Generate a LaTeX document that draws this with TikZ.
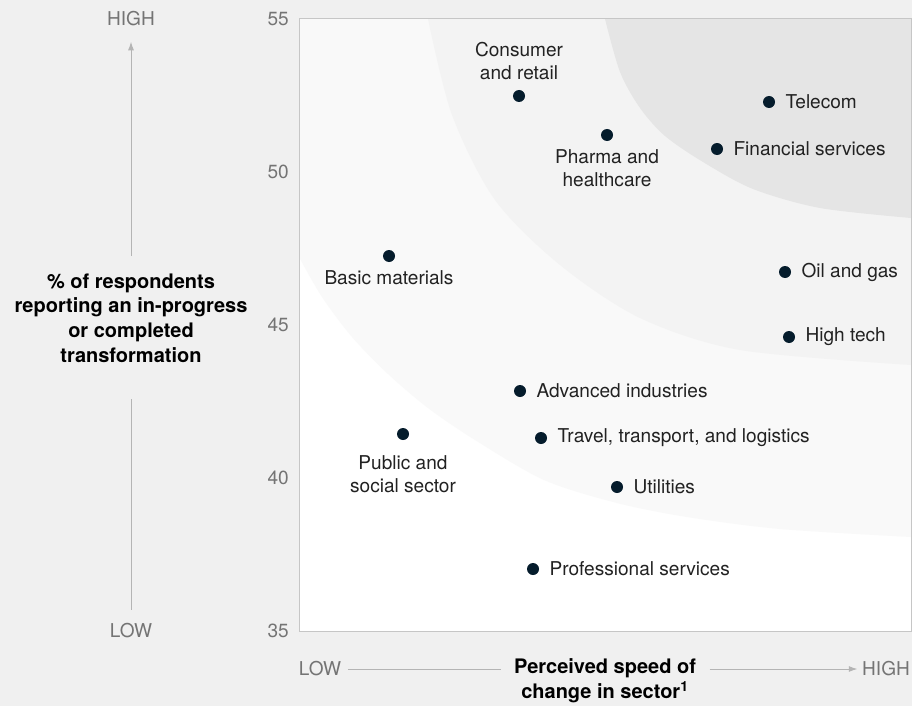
\documentclass[tikz,border=0pt]{standalone}
\usepackage{fontspec}
\setmainfont{TeX Gyre Heros}
\usepackage{tikz}
\usetikzlibrary{positioning, arrows.meta}

\definecolor{pagegray}{HTML}{F0F0F0}
\definecolor{zoneone}{HTML}{F9F9F9}
\definecolor{zonetwo}{HTML}{F3F3F3}
\definecolor{zonethree}{HTML}{E5E5E5}
\definecolor{framegray}{HTML}{C6C6C6}
\definecolor{guidegray}{HTML}{B4B4B4}
\definecolor{axisgray}{HTML}{747474}
\definecolor{inkblue}{HTML}{051C2C}
\definecolor{txtdark}{HTML}{222222}

\tikzset{
  dot/.style={circle, fill=inkblue, inner sep=0pt, minimum size=9pt},
  sector/.style={inner sep=0pt, text=txtdark, align=center,
    font=\fontsize{14.3}{17.3}\selectfont},
  axisword/.style={text=axisgray, font=\fontsize{14.3}{17.3}\selectfont},
  axistitle/.style={inner sep=0pt, align=center, text=black,
    font=\bfseries\fontsize{15}{18.5}\selectfont},
  guide/.style={draw=guidegray, line width=0.75pt},
  guidetip/.style={-{Latex[length=6.5pt, width=4.5pt]}},
}

\begin{document}
\begin{tikzpicture}[x=0.75pt, y=-0.75pt]
        \fill[pagegray] (0,0) rectangle (912,706);
        \useasboundingbox (0,0) rectangle (912,706);
        % zones of the plot
        \fill[white] (299,19) rectangle (911,631);
        \fill[zoneone] plot[smooth] coordinates {(299,257) (322,297) (352,337)
            (388,374) (428,408) (475,440) (544,480) (617,503) (687,517)
            (780,529) (911,537)} -- (911,19) -- (299,19) -- cycle;
        \fill[zonetwo] plot[smooth] coordinates {(428,19) (452,115) (495,200)
            (560,265) (640,318) (740,350) (911,365)} -- (911,19) -- cycle;
        \fill[zonethree] plot[smooth] coordinates {(605,19) (620,72) (640,108)
            (665,136) (703,162) (753,189) (820,208) (911,218)}
            -- (911,19) -- cycle;
        \draw[framegray, line width=0.75pt] (299,19) rectangle (911,631);
        % y axis
        \foreach \v in {35,40,45,50,55}
        \node[axisword, anchor=east, inner sep=0pt] (tick\v) at (289,{19+(55-\v)*30.6}) {\v};
        \node[axisword] (yhigh) at (131,19) {HIGH};
        \node[axisword] (ylow) at (131,631) {LOW};
        \node[axistitle] (ytitle) at (131,318) {\%~of respondents\\reporting an in-progress\\or completed\\transformation};
        \draw[guide, guidetip, shorten <=13pt, shorten >=8pt] (ytitle) -- (yhigh);
        \draw[guide, shorten <=27.5pt, shorten >=6.5pt] (ytitle) -- (ylow);
        % x axis
        \node[axisword] (xlow) at (320,669) {LOW};
        \node[axisword] (xhigh) at (886,669) {HIGH};
        \node[axistitle] (xtitle) at (605,681) {Perceived speed of\\change in sector\textsuperscript{1}};
        \draw[guide, shorten <=1.5pt, shorten >=10pt] (xlow) -- (xlow -| xtitle.west);
        \draw[guide, guidetip, shorten <=10pt] (xhigh -| xtitle.east) -- (xhigh);
        % sectors
        \foreach \nm/\px/\py/\txt in {tel/769/102/Telecom, fin/717/149/Financial services,
            oil/785/272/Oil and gas, hig/789/337/High tech, adv/520/391/Advanced industries,
            tra/541/438/{Travel, transport, and logistics}, uti/617/487/Utilities,
            pro/533/569/Professional services}
        {
        \node[dot] (\nm) at (\px,\py) {};
        \node[sector, right=7.5pt of \nm] (\nm-t) {\txt};
        }
        \node[dot] (con) at (519,96) {};
        \node[sector, above=7pt of con] (con-t) {Consumer\\and retail};
        \node[dot] (pha) at (607,135) {};
        \node[sector, below=6pt of pha] (pha-t) {Pharma and\\healthcare};
        \node[dot] (bas) at (389,256) {};
        \node[sector, below=6pt of bas] (bas-t) {Basic materials};
        \node[dot] (pub) at (403,434) {};
        \node[sector, below=11pt of pub] (pub-t) {Public and\\social sector};
    \end{tikzpicture}
\end{document}
